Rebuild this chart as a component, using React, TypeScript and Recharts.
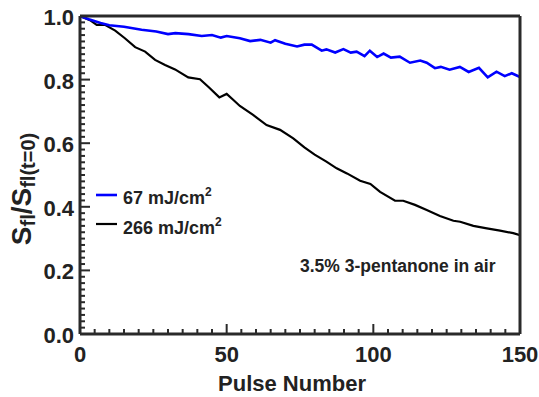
import React from 'react';
import { LineChart, Line, XAxis, YAxis } from 'recharts';

// 67 mJ/cm2 run
const pulses67 = [0, 3, 7, 10, 15, 21, 26, 30, 32.5, 37, 41.5, 45, 48, 50, 54.5, 58, 61.5, 65, 66.5, 70, 74, 76.5, 79, 82.4, 84, 87, 89.8, 92.3, 94.3, 97, 98.8, 101.3, 103.5, 106, 109, 112.5, 116, 118.2, 121, 123, 126, 129.5, 132.5, 136, 139, 142, 144.8, 147.2, 150];
const signal67 = [1.0, 0.99, 0.978, 0.971, 0.966, 0.957, 0.951, 0.943, 0.946, 0.943, 0.937, 0.94, 0.932, 0.937, 0.93, 0.921, 0.925, 0.916, 0.924, 0.913, 0.904, 0.91, 0.91, 0.891, 0.895, 0.885, 0.896, 0.885, 0.888, 0.874, 0.891, 0.871, 0.882, 0.869, 0.872, 0.853, 0.86, 0.853, 0.836, 0.84, 0.831, 0.84, 0.824, 0.837, 0.807, 0.825, 0.811, 0.82, 0.808];

// 266 mJ/cm2 run
const pulses266 = [0, 3.4, 5.7, 8.5, 12, 15.3, 18.8, 22.2, 25.6, 29, 32.4, 36.9, 40.9, 44, 47.5, 50, 52.3, 54.5, 59, 63.6, 68.2, 72.7, 76.5, 80, 84, 87.5, 91, 95.5, 99, 102.3, 107.4, 110.2, 114.2, 118.2, 122.7, 127.3, 129.6, 134.1, 138.7, 143.2, 147.7, 150];
const signal266 = [1.0, 0.987, 0.972, 0.972, 0.954, 0.93, 0.902, 0.888, 0.862, 0.846, 0.832, 0.807, 0.801, 0.775, 0.744, 0.755, 0.736, 0.717, 0.689, 0.657, 0.642, 0.615, 0.587, 0.564, 0.542, 0.521, 0.505, 0.482, 0.472, 0.447, 0.419, 0.419, 0.406, 0.39, 0.371, 0.356, 0.353, 0.34, 0.332, 0.325, 0.317, 0.311];

const xMajorTicks = [0, 50, 100, 150];
const yMajorTicks = [0, 0.2, 0.4, 0.6, 0.8, 1.0];
const xTicks = Array.from({ length: 31 }, (_, i) => i * 5);
const yTicks = Array.from({ length: 51 }, (_, i) => i / 50);

const data67 = pulses67.map((p, i) => ({ pulse: p, sf: signal67[i] }));
const data266 = pulses266.map((p, i) => ({ pulse: p, sf: signal266[i] }));

const AXIS = '#2a2a2a';
const FONT = '"Liberation Sans", Arial, sans-serif';

const isMajorX = (v: number) => xMajorTicks.includes(v);
const isMajorY = (v: number) => yMajorTicks.some((t) => Math.abs(t - v) < 1e-6);

const BottomTick = (props: any) => {
  const { x, y, payload } = props;
  const major = isMajorX(payload.value);
  return (
    <g>
      <line x1={x} y1={y} x2={x} y2={y - (major ? 10 : 5)} stroke={AXIS} strokeWidth={2} />
      {major && (
        <text x={x} y={y + 28} textAnchor="middle" fontSize={22} fontWeight="bold" fontFamily={FONT} fill="#222">
          {payload.value}
        </text>
      )}
    </g>
  );
};

const TopTick = (props: any) => {
  const { x, y, payload } = props;
  const major = isMajorX(payload.value);
  return <line x1={x} y1={y} x2={x} y2={y + (major ? 10 : 5)} stroke={AXIS} strokeWidth={2} />;
};

const LeftTick = (props: any) => {
  const { x, y, payload } = props;
  const major = isMajorY(payload.value);
  return (
    <g>
      <line x1={x} y1={y} x2={x + (major ? 10 : 5)} y2={y} stroke={AXIS} strokeWidth={2} />
      {major && (
        <text x={x - 6} y={y + 9} textAnchor="end" fontSize={22} fontWeight="bold" fontFamily={FONT} fill="#222">
          {payload.value.toFixed(1)}
        </text>
      )}
    </g>
  );
};

const RightTick = (props: any) => {
  const { x, y, payload } = props;
  const major = isMajorY(payload.value);
  return <line x1={x} y1={y} x2={x - (major ? 10 : 5)} y2={y} stroke={AXIS} strokeWidth={2} />;
};

const App = () => {
  return (
    <div style={{ position: 'absolute', left: 0, top: 0, width: 539, height: 397, background: '#fff' }}>
      <LineChart width={539} height={397} margin={{ top: 6, right: 0, bottom: 0, left: 0 }}>
        <XAxis
          dataKey="pulse"
          type="number"
          domain={[0, 150]}
          ticks={xTicks}
          interval={0}
          height={63}
          tickSize={0}
          tickMargin={0}
          tickLine={false}
          axisLine={{ stroke: AXIS, strokeWidth: 3 }}
          tick={<BottomTick />}
          allowDataOverflow
        />
        <XAxis
          xAxisId="top"
          orientation="top"
          dataKey="pulse"
          type="number"
          domain={[0, 150]}
          ticks={xTicks}
          interval={0}
          height={10}
          tickSize={0}
          tickMargin={0}
          tickLine={false}
          axisLine={{ stroke: AXIS, strokeWidth: 3 }}
          tick={<TopTick />}
        />
        <YAxis
          type="number"
          domain={[0, 1]}
          ticks={yTicks}
          interval={0}
          width={80}
          tickSize={0}
          tickMargin={0}
          tickLine={false}
          axisLine={{ stroke: AXIS, strokeWidth: 3 }}
          tick={<LeftTick />}
          allowDataOverflow
        />
        <YAxis
          yAxisId="right"
          orientation="right"
          type="number"
          domain={[0, 1]}
          ticks={yTicks}
          interval={0}
          width={19}
          tickSize={0}
          tickMargin={0}
          tickLine={false}
          axisLine={{ stroke: AXIS, strokeWidth: 3 }}
          tick={<RightTick />}
        />
        <Line
          data={data266}
          dataKey="sf"
          type="linear"
          stroke="#000000"
          strokeWidth={2.2}
          dot={false}
          isAnimationActive={false}
        />
        <Line
          data={data67}
          dataKey="sf"
          type="linear"
          stroke="#0000ff"
          strokeWidth={2.6}
          dot={false}
          isAnimationActive={false}
        />
      </LineChart>
      <svg
        width={539}
        height={397}
        style={{ position: 'absolute', left: 0, top: 0, pointerEvents: 'none' }}
        fontFamily={FONT}
        fontWeight="bold"
        fill="#222"
      >
        <text transform="translate(31,189) rotate(-90)" textAnchor="middle" fontSize={28}>
          S<tspan fontSize={20} dy={4}>fl</tspan>
          <tspan fontSize={28} dy={-4}>/S</tspan>
          <tspan fontSize={20} dy={4}>fl(t=0)</tspan>
        </text>
        <text x={292} y={391} textAnchor="middle" fontSize={22}>Pulse Number</text>

        <line x1={96} y1={195} x2={117} y2={195} stroke="#0000ff" strokeWidth={2.6} />
        <text x={123} y={204} fontSize={18}>
          67 mJ/cm<tspan fontSize={12} dy={-8}>2</tspan>
        </text>
        <line x1={96} y1={224} x2={117} y2={224} stroke="#000" strokeWidth={2.2} />
        <text x={123} y={234} fontSize={18}>
          266 mJ/cm<tspan fontSize={12} dy={-8}>2</tspan>
        </text>

        <text x={300} y={272} fontSize={17.5}>3.5% 3-pentanone in air</text>
      </svg>
    </div>
  );
};

export default App;
